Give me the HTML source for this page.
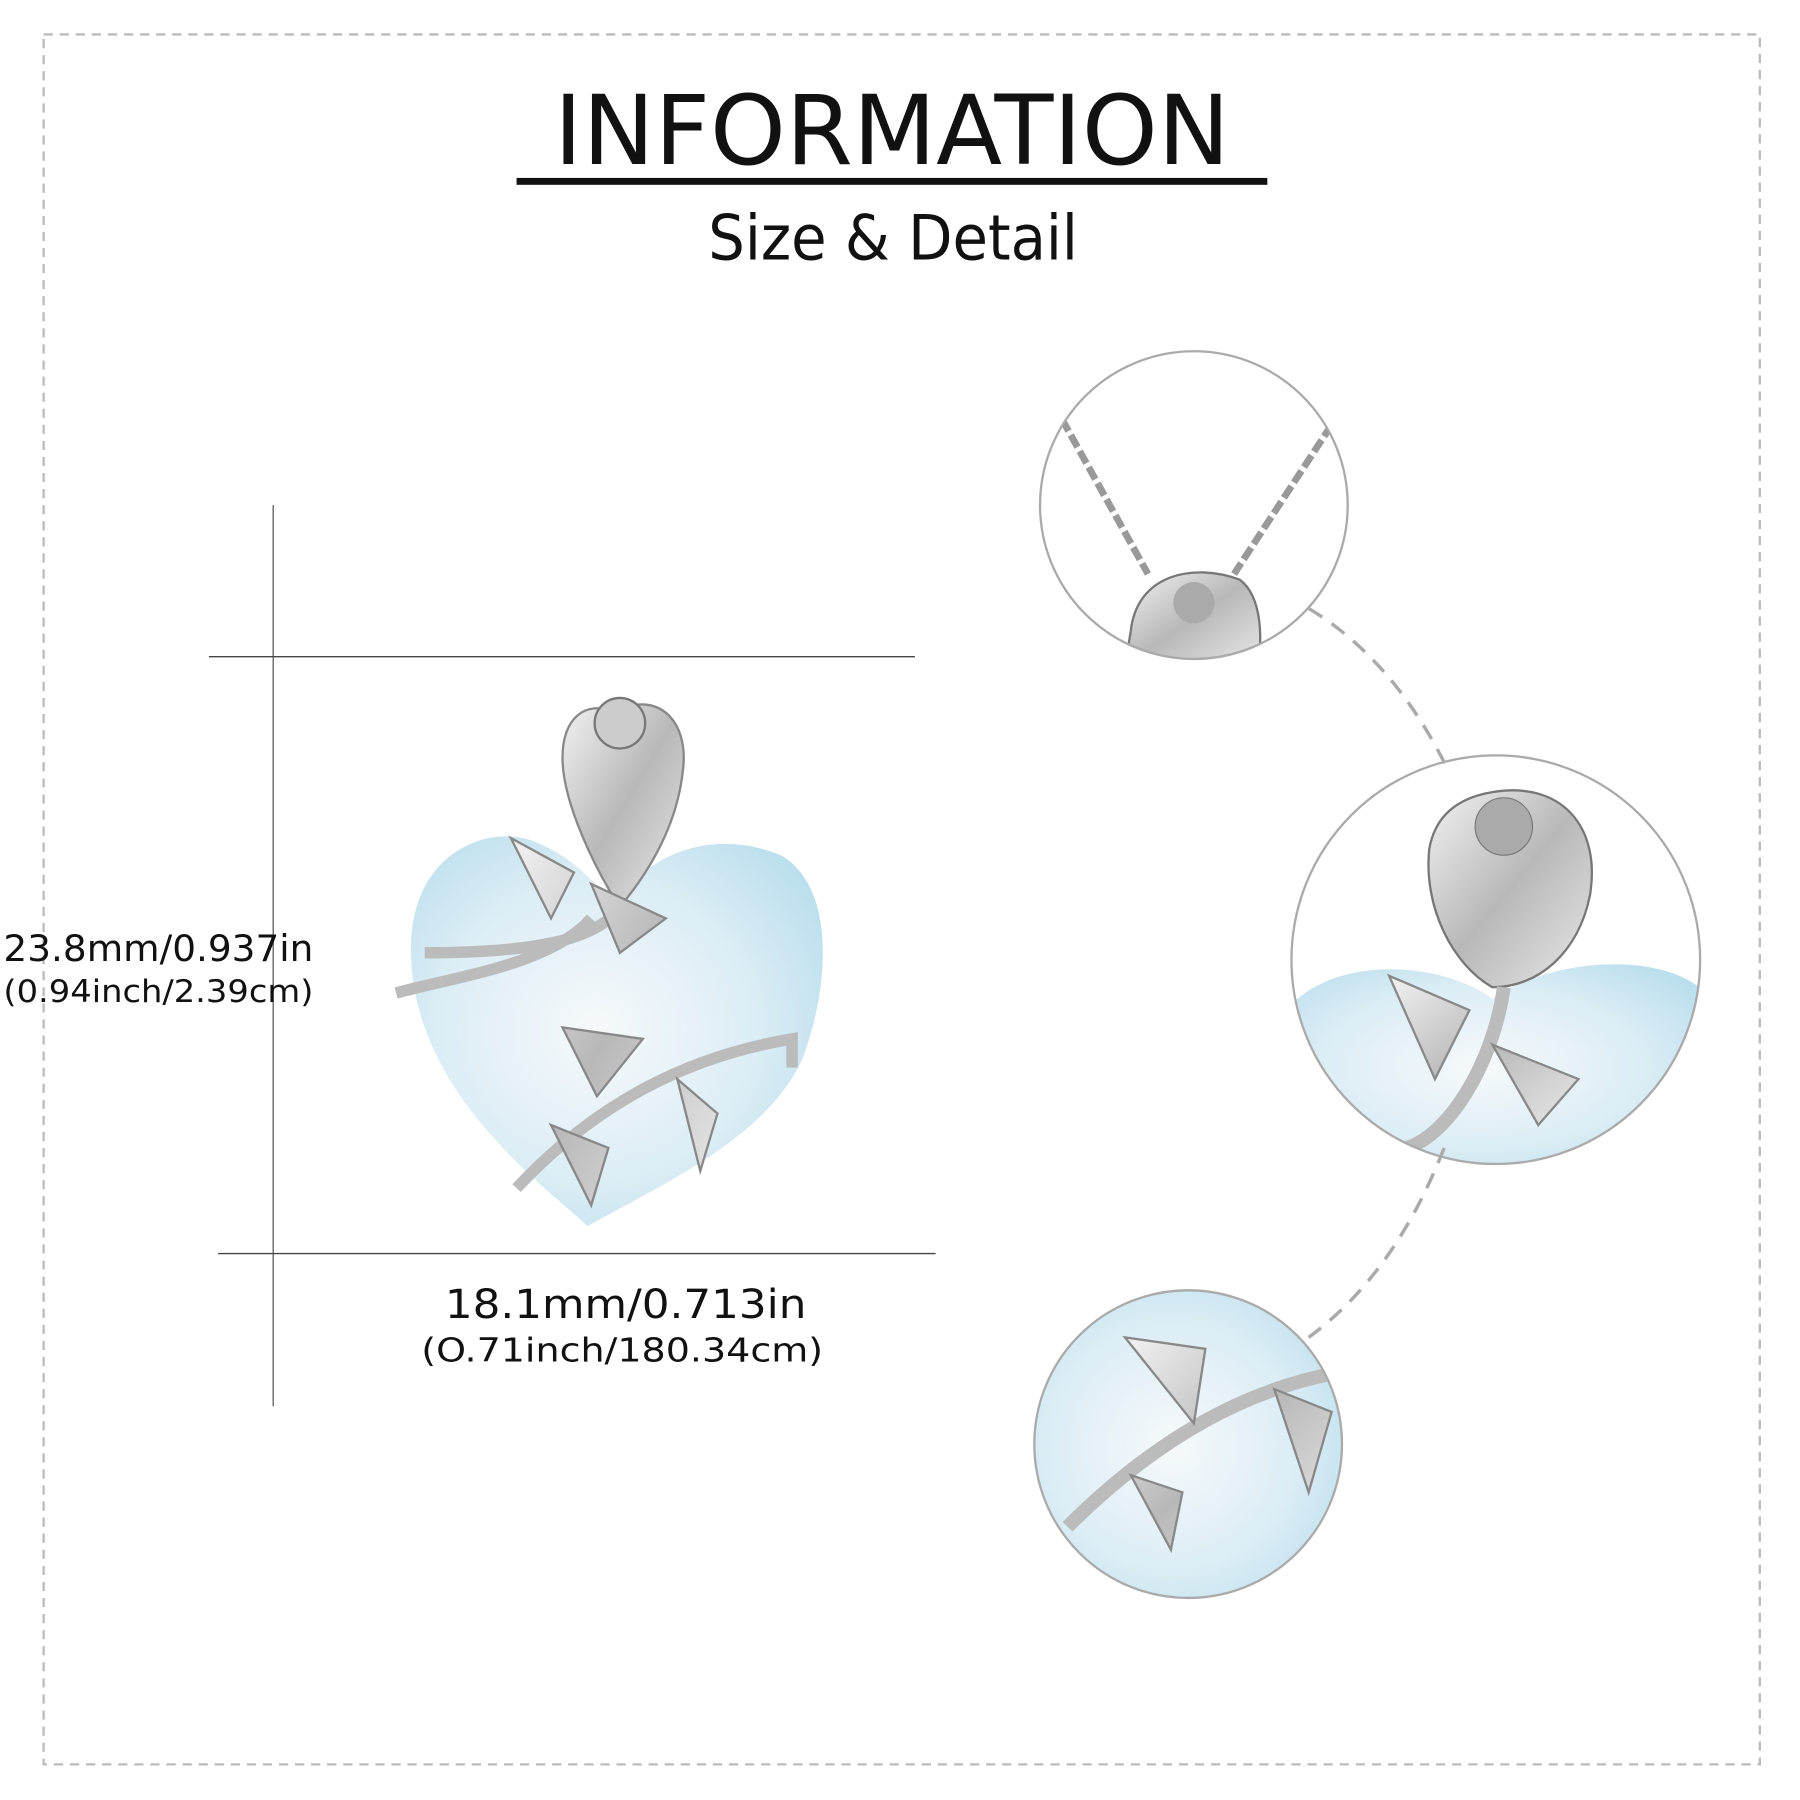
<!DOCTYPE html>
<html><head><style>html,body{margin:0;padding:0;background:#fff;width:1800px;height:1800px;overflow:hidden}</style></head>
<body>
<svg width="1800" height="1800" viewBox="0 0 1568 1568" xmlns="http://www.w3.org/2000/svg" font-family="'DejaVu Sans','Liberation Sans',sans-serif">
<defs>
<radialGradient id="g" cx="0.45" cy="0.5" r="0.7">
<stop offset="0" stop-color="#f6f9fb"/><stop offset="0.55" stop-color="#dcedf5"/><stop offset="1" stop-color="#b2dbeb"/>
</radialGradient>
<linearGradient id="s" x1="0" y1="0" x2="1" y2="1"><stop offset="0" stop-color="#f2f2f2"/><stop offset="0.5" stop-color="#b8b8b8"/><stop offset="1" stop-color="#e8e8e8"/></linearGradient>
<clipPath id="c1"><circle cx="1040" cy="440" r="134"/></clipPath>
<clipPath id="c2"><circle cx="1303" cy="836" r="178"/></clipPath>
<clipPath id="c3"><circle cx="1035" cy="1258" r="134"/></clipPath>
</defs>
<rect x="38" y="30" width="1495" height="1507" fill="none" stroke="#bbb" stroke-width="2" stroke-dasharray="8,6"/>
<text x="777" y="143" font-size="84" text-anchor="middle" fill="#111">INFORMATION</text>
<rect x="450" y="155" width="654" height="6" fill="#111"/>
<text x="778" y="226" font-size="54" text-anchor="middle" fill="#111" textLength="322" lengthAdjust="spacingAndGlyphs">Size &amp; Detail</text>
<line x1="238" y1="440" x2="238" y2="1225" stroke="#666" stroke-width="1.2"/>
<line x1="182" y1="572" x2="797" y2="572" stroke="#444" stroke-width="1.2"/>
<line x1="190" y1="1092" x2="815" y2="1092" stroke="#444" stroke-width="1.2"/>
<text x="3" y="837" font-size="32" fill="#111" textLength="270" lengthAdjust="spacingAndGlyphs">23.8mm/0.937in</text>
<text x="3" y="873" font-size="27" fill="#111" textLength="270" lengthAdjust="spacingAndGlyphs">(0.94inch/2.39cm)</text>
<text x="545" y="1148" font-size="35" text-anchor="middle" fill="#111" textLength="315" lengthAdjust="spacingAndGlyphs">18.1mm/0.713in</text>
<text x="542" y="1186" font-size="29" text-anchor="middle" fill="#111" textLength="350" lengthAdjust="spacingAndGlyphs">(O.71inch/180.34cm)</text>
<!-- heart -->
<path d="M512,1068 C470,1030 360,950 358,830 C356,740 430,715 470,735 C500,748 520,770 535,790 C560,745 620,720 680,745 C725,770 725,850 700,920 C670,990 580,1030 512,1068 Z" fill="url(#g)"/>
<path d="M535,620 C575,600 600,630 595,670 C590,720 565,760 540,790 C520,760 490,700 490,660 C490,625 510,610 535,620Z" fill="url(#s)" stroke="#888" stroke-width="2"/>
<circle cx="540" cy="630" r="22" fill="#ccc" stroke="#777" stroke-width="2"/>
<path d="M540,790 C520,820 460,830 370,830 M345,865 C400,850 480,840 515,800" stroke="#bbb" stroke-width="10" fill="none"/>
<path d="M450,1035 C520,960 600,920 690,905 L690,930" stroke="#bbb" stroke-width="10" fill="none"/>
<path d="M445,730 L500,760 L480,800 Z M515,770 L580,800 L540,830Z M490,895 L560,905 L520,955Z M590,940 L625,970 L610,1020Z M480,980 L530,1000 L515,1050Z" fill="url(#s)" stroke="#888" stroke-width="2"/>
<!-- circles -->
<g clip-path="url(#c1)">
<rect x="900" y="300" width="280" height="280" fill="#fff"/>
<path d="M925,365 L1000,500 M1160,370 L1075,500" stroke="#999" stroke-width="6" stroke-dasharray="12,4" fill="none"/>
<path d="M985,550 C990,500 1040,490 1080,505 C1100,520 1100,560 1095,580 L980,580Z" fill="url(#s)" stroke="#777" stroke-width="2"/>
<circle cx="1040" cy="525" r="18" fill="#aaa"/>
</g>
<circle cx="1040" cy="440" r="134" fill="none" stroke="#aaa" stroke-width="2"/>
<g clip-path="url(#c2)">
<rect x="1120" y="650" width="370" height="370" fill="#fff"/>
<path d="M1125,875 C1170,830 1260,840 1300,870 C1360,830 1460,830 1490,870 L1490,1020 L1125,1020Z" fill="url(#g)"/>
<path d="M1300,690 C1360,680 1395,720 1385,780 C1375,830 1340,860 1300,860 C1265,840 1240,790 1245,740 C1250,710 1270,695 1300,690Z" fill="url(#s)" stroke="#777" stroke-width="2"/>
<circle cx="1310" cy="720" r="25" fill="#aaa" stroke="#777"/>
<path d="M1310,860 C1300,930 1260,990 1225,1000" stroke="#bbb" stroke-width="12" fill="none"/>
<path d="M1210,850 L1280,880 L1250,940Z M1300,910 L1375,940 L1340,980Z" fill="url(#s)" stroke="#888" stroke-width="2"/>
</g>
<circle cx="1303" cy="836" r="178" fill="none" stroke="#aaa" stroke-width="2"/>
<g clip-path="url(#c3)">
<rect x="895" y="1120" width="280" height="280" fill="url(#g)"/>
<path d="M930,1330 C1000,1260 1080,1210 1170,1195" stroke="#bbb" stroke-width="12" fill="none"/>
<path d="M980,1165 L1050,1175 L1040,1240Z M1110,1210 L1160,1230 L1140,1300Z M985,1285 L1030,1300 L1020,1350Z" fill="url(#s)" stroke="#888" stroke-width="2"/>
</g>
<circle cx="1035" cy="1258" r="134" fill="none" stroke="#aaa" stroke-width="2"/>
<path d="M1140,530 Q1215,575 1262,672" stroke="#aaa" stroke-width="3" fill="none" stroke-dasharray="14,10"/>
<path d="M1258,1000 Q1215,1110 1140,1165" stroke="#aaa" stroke-width="3" fill="none" stroke-dasharray="14,10"/>
</svg>
</body></html>
